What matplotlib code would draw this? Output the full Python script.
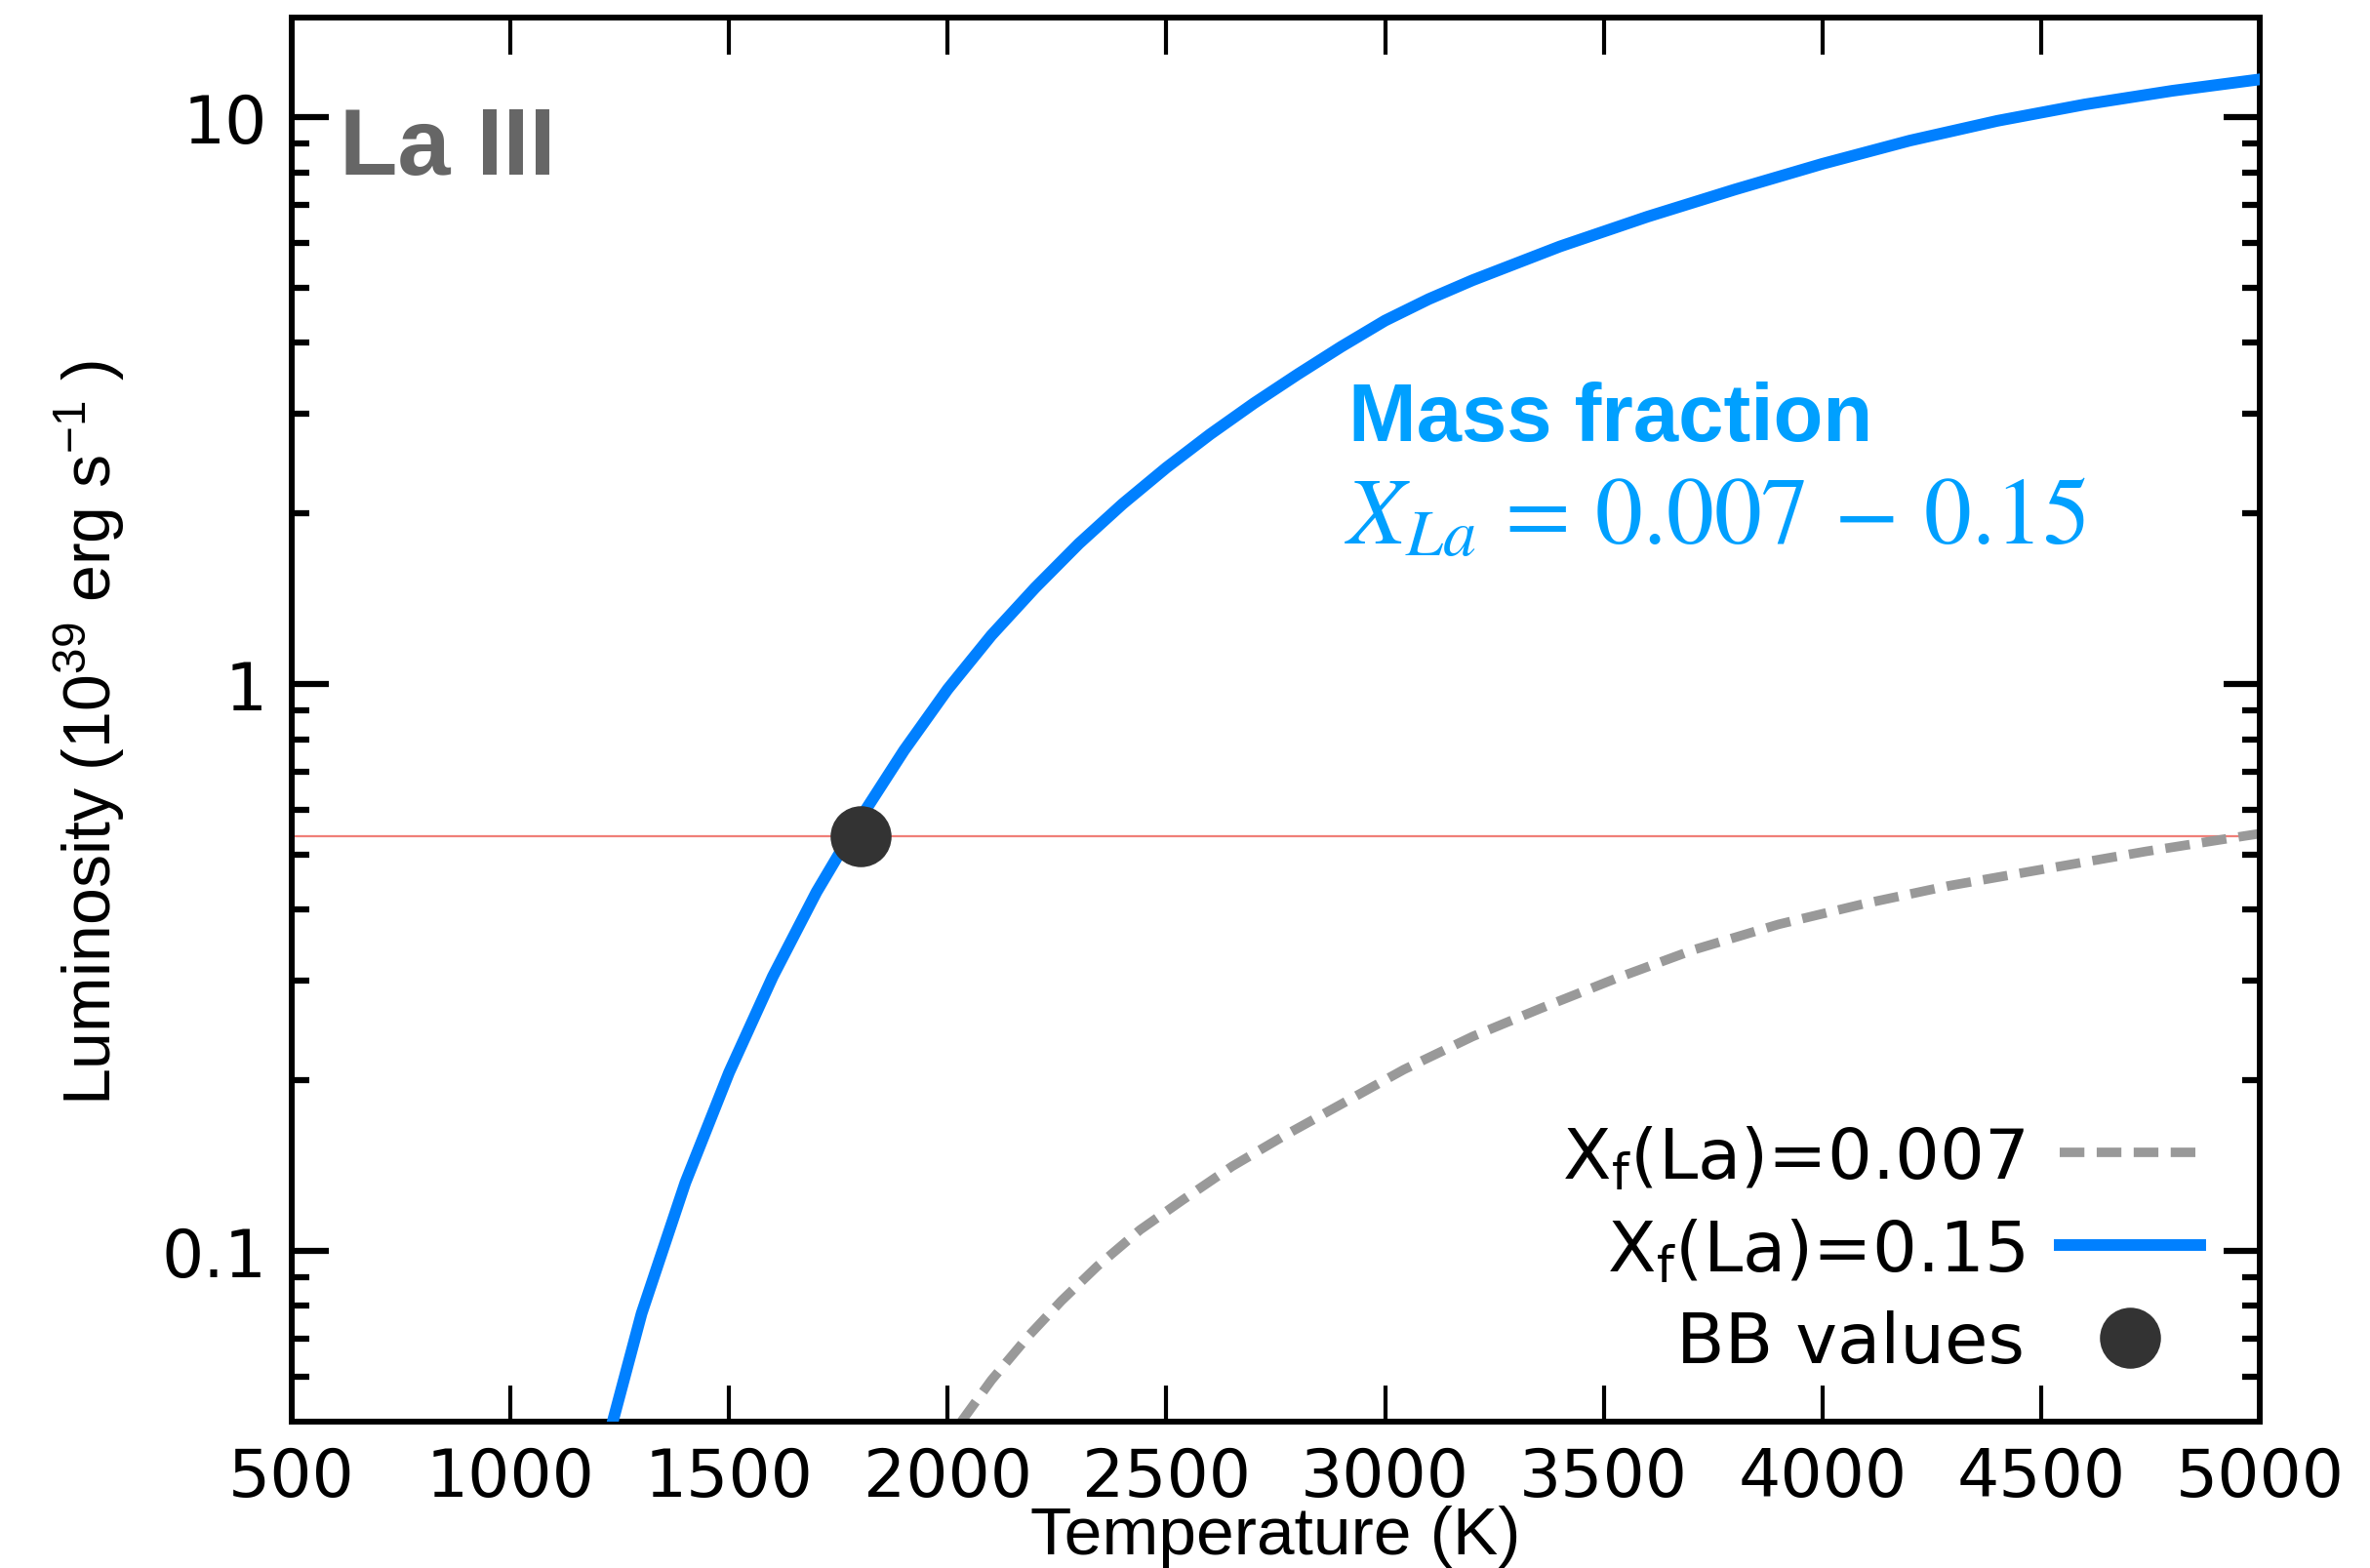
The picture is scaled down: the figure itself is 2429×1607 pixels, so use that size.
import matplotlib
matplotlib.use("Agg")
import matplotlib.pyplot as plt
from matplotlib.font_manager import FontProperties
from matplotlib.ticker import FixedLocator, FixedFormatter, NullFormatter
from matplotlib.lines import Line2D

plt.rcParams["font.family"] = ["DejaVu Sans"]
plt.rcParams["mathtext.fontset"] = "custom"
plt.rcParams["mathtext.rm"] = "Liberation Sans"
plt.rcParams["mathtext.it"] = "Liberation Sans:italic"
plt.rcParams["mathtext.bf"] = "Liberation Sans:bold"

# Luminosity (1e39 erg/s) versus temperature (K) for two La mass fractions
temp_high = [1234, 1300, 1400, 1500, 1600, 1700, 1800, 1900, 2000, 2100,
             2200, 2300, 2400, 2500, 2600, 2700, 2800, 2900, 3000, 3100,
             3200, 3400, 3600, 3800, 4000, 4200, 4400, 4600, 4800, 5000]
lum_high = [0.050, 0.0776, 0.132, 0.2065, 0.305, 0.43, 0.58, 0.764, 0.98, 1.22,
            1.48, 1.77, 2.08, 2.41, 2.76, 3.13, 3.52, 3.94, 4.38, 4.78,
            5.16, 5.92, 6.68, 7.46, 8.28, 9.10, 9.86, 10.54, 11.14, 11.67]

temp_low = [2031, 2100, 2186, 2260, 2342, 2440, 2537, 2650, 2771, 3043,
            3200, 3356, 3530, 3706, 3900, 4096, 4290, 4487, 4740, 5000]
lum_low = [0.050, 0.0592, 0.071, 0.0817, 0.094, 0.109, 0.123, 0.141, 0.160, 0.209,
           0.239, 0.268, 0.303, 0.340, 0.377, 0.410, 0.441, 0.469, 0.507, 0.545]

# Blackbody estimate
bb_temp = [1800]
bb_lum = [0.54]

x_ticks = [500, 1000, 1500, 2000, 2500, 3000, 3500, 4000, 4500, 5000]
x_labels = ["500", "1000", "1500", "2000", "2500", "3000", "3500", "4000", "4500", "5000"]
y_ticks = [0.1, 1, 10]
y_labels = ["0.1", "1", "10"]
y_minor = [0.06, 0.07, 0.08, 0.09, 0.2, 0.3, 0.4, 0.5, 0.6, 0.7, 0.8, 0.9,
           2, 3, 4, 5, 6, 7, 8, 9]

label_low = r"X$_\mathrm{f}$(La)=0.007"
label_high = r"X$_\mathrm{f}$(La)=0.15"
label_bb = "BB values"

line_blue = "#0080FF"
text_blue = "#00A0FF"
line_grey = "#999999"
dot_color = "#333333"

fig = plt.figure(figsize=(24.29, 16.08), dpi=100)
ax = fig.add_axes([299 / 2429, 150 / 1608, 2017 / 2429, 1439 / 1608])

ax.set_yscale("log")
ax.set_xlim(500, 5000)
ax.set_ylim(0.05, 15)

ax.axhline(bb_lum[0], color="#F07F78", lw=1.6, zorder=1)
ax.plot(temp_low, lum_low, color=line_grey, lw=7.0, dashes=(2.6, 1.3), zorder=2)
ax.plot(temp_high, lum_high, color=line_blue, lw=8.6, zorder=3,
        solid_joinstyle="round")
ax.plot(bb_temp, bb_lum, "o", color=dot_color, ms=44, zorder=4)

for s in ax.spines.values():
    s.set_linewidth(4.3)

ax.xaxis.set_major_locator(FixedLocator(x_ticks))
ax.xaxis.set_major_formatter(FixedFormatter(x_labels))
ax.yaxis.set_major_locator(FixedLocator(y_ticks))
ax.yaxis.set_major_formatter(FixedFormatter(y_labels))
ax.yaxis.set_minor_locator(FixedLocator(y_minor))
ax.yaxis.set_minor_formatter(NullFormatter())
ax.xaxis.set_minor_locator(FixedLocator([]))

ax.tick_params(axis="both", which="both", direction="in", top=True, right=True)
ax.tick_params(axis="x", which="major", length=27, width=3, pad=17, labelsize=49)
ax.tick_params(axis="y", which="major", length=27, width=4.5, pad=18, labelsize=49)
ax.tick_params(axis="y", which="minor", length=13, width=4.5)

ax.set_xlabel("Temperature (K)", family="Liberation Sans", fontsize=50)
ax.xaxis.set_label_coords(0.5, -0.0593)
ax.set_ylabel(r"Luminosity (10$^{39}$ erg s$^{-1}$ )", family="Liberation Sans",
              fontsize=49)
ax.yaxis.set_label_coords(-0.0838, 0.4913)

ax.text(0.0245, 0.8887, "La III", transform=ax.transAxes, family="Liberation Sans",
        fontsize=70, fontweight="bold", color="#666666")
ax.text(0.537, 0.699, "Mass fraction", transform=ax.transAxes, family="Liberation Sans",
        fontsize=60, fontweight="bold", color=text_blue)
ax.text(0.535, 0.6255, r"$X_{La}\,=\,0.007\,-\,0.15$", transform=ax.transAxes,
        fontsize=70, color=text_blue, math_fontfamily="stix")

handles = [
    Line2D([], [], color=line_grey, lw=7.0, dashes=(2.6, 1.3)),
    Line2D([], [], color=line_blue, lw=8.6),
    Line2D([], [], ls="none", marker="o", color=dot_color, ms=44),
]
leg_font = FontProperties(family="DejaVu Sans", size=52, math_fontfamily="dejavusans")
ax.legend(handles, [label_low, label_high, label_bb], loc="lower right",
          bbox_to_anchor=(0.970, 0.032), frameon=False, markerfirst=False,
          prop=leg_font, handlelength=2.0, handletextpad=0.5, labelspacing=0.36,
          borderpad=0, borderaxespad=0)

fig.savefig("out.png", dpi=100)
